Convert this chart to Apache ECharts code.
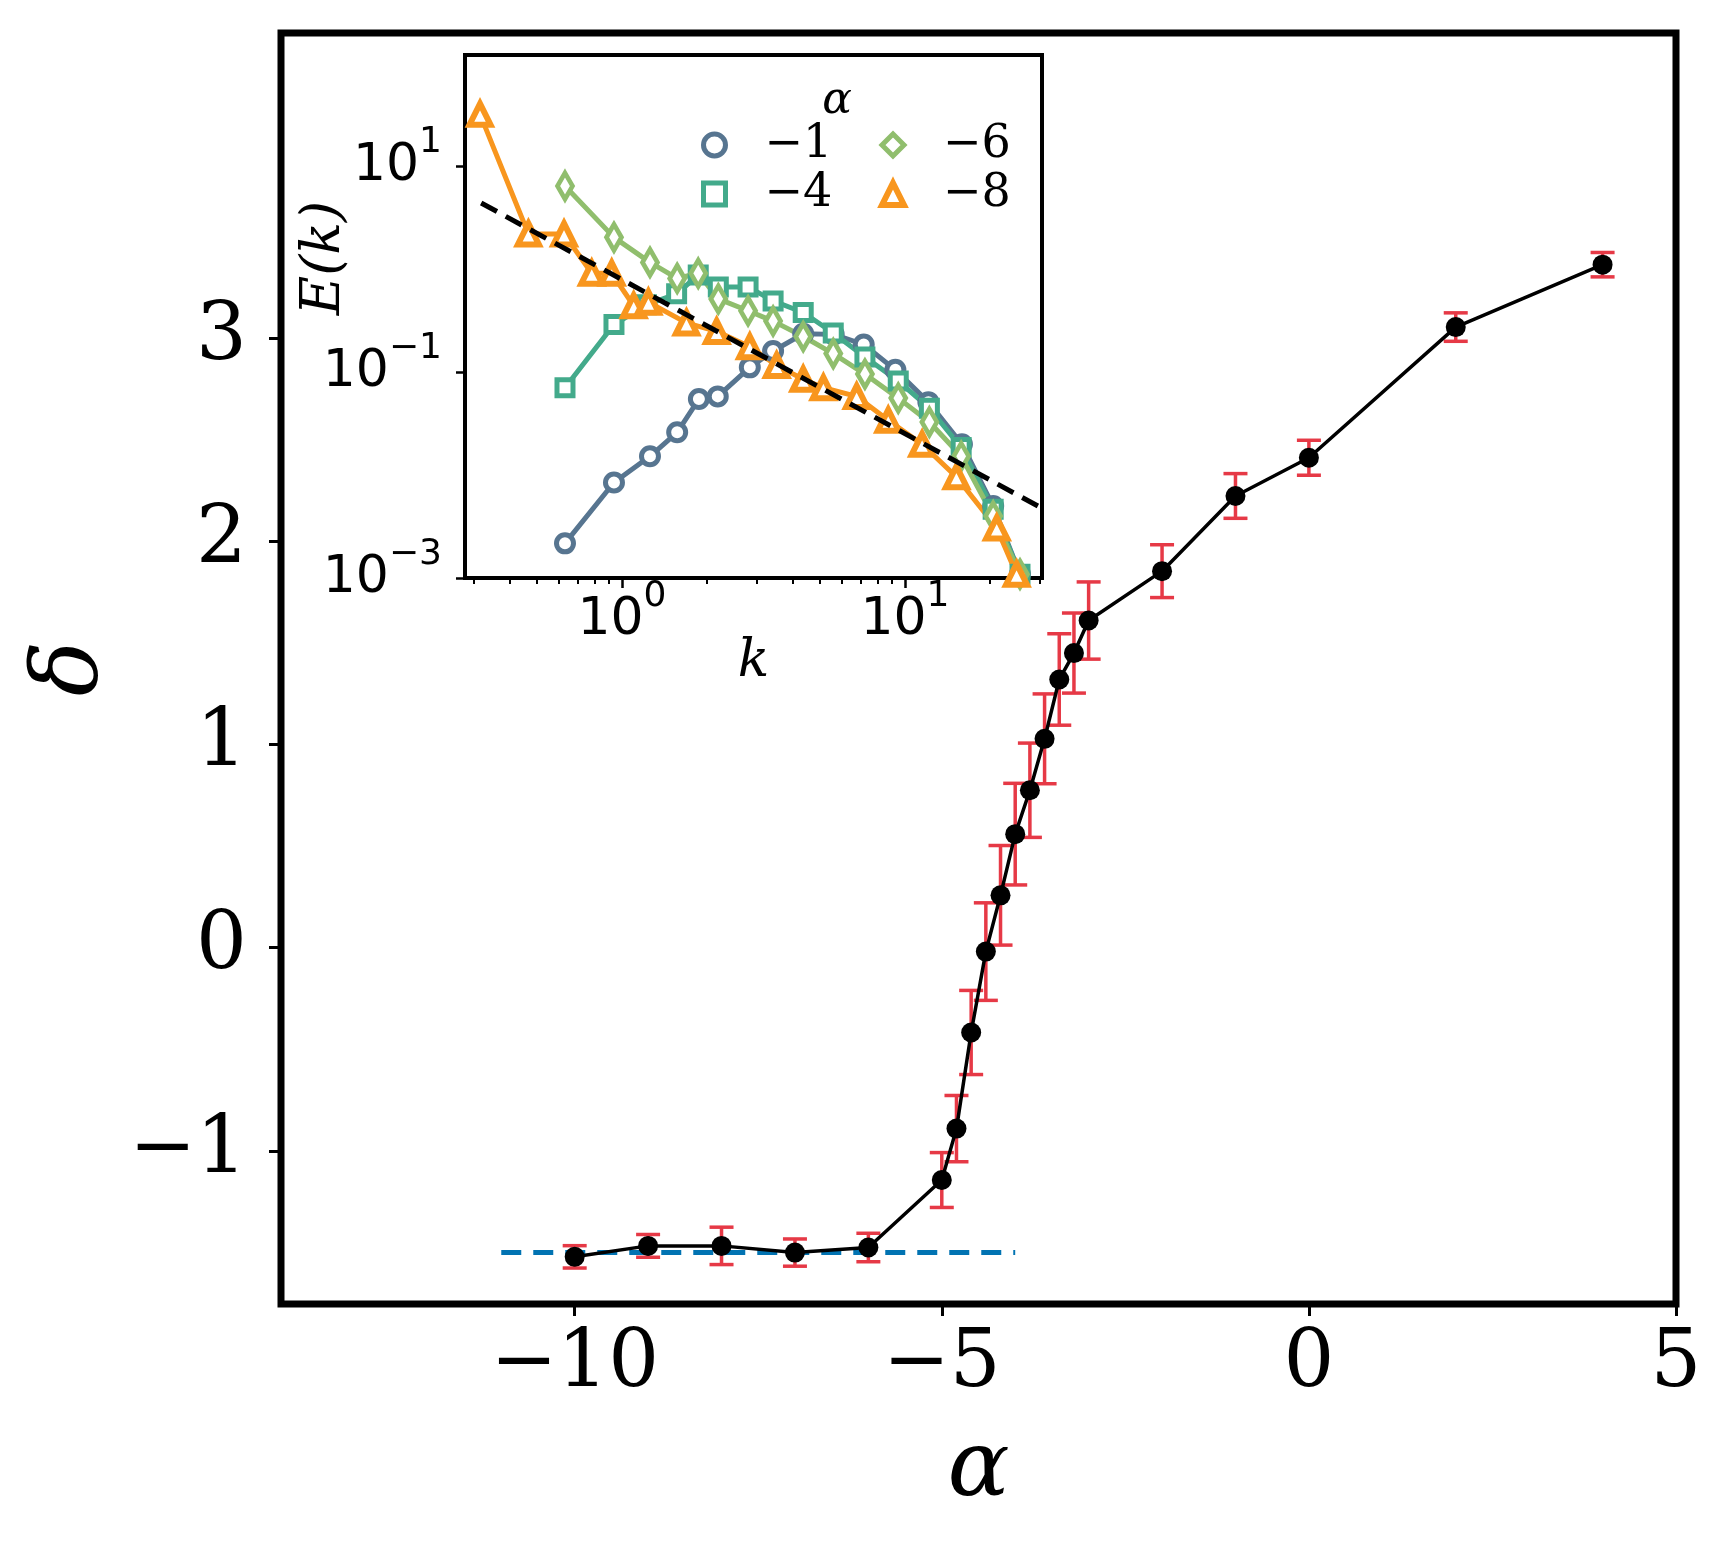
<!DOCTYPE html>
<html>
<head>
    <meta charset="utf-8"/>
    <title>delta vs alpha</title>
    <script src="https://cdn.jsdelivr.net/npm/echarts@6/dist/echarts.min.js"></script>
    <style type="text/css">
        html, body { margin: 0; padding: 0; background: #fff; }
        #main { width: 1732px; height: 1543px; }
    </style>
</head>
<body>
<div id="main"></div>
<script type="text/javascript">
// main panel: delta(alpha) with error bars
var alpha    = [-10, -9, -8, -7, -6, -5, -4.8, -4.6, -4.4, -4.2, -4.0, -3.8, -3.6, -3.4, -3.2, -3.0, -2, -1, 0, 2, 4];
var delta    = [-1.522, -1.468, -1.468, -1.501, -1.476, -1.144, -0.891, -0.418, -0.020, 0.257, 0.558, 0.774, 1.027, 1.319, 1.449, 1.609, 1.852, 2.222, 2.410, 3.053, 3.360];
var deltaErr = [0.055, 0.056, 0.092, 0.067, 0.070, 0.135, 0.163, 0.207, 0.240, 0.245, 0.250, 0.232, 0.221, 0.225, 0.197, 0.190, 0.130, 0.110, 0.086, 0.070, 0.060];
var refAlpha = [-11, -4];
var refDelta = [-1.5, -1.5];
var xTicks = [-10, -5, 0, 5];
var yTicks = [-1, 0, 1, 2, 3];

// inset: spectra E(k)
var kBlue   = [0.629, 0.937, 1.256, 1.567, 1.87, 2.18, 2.83, 3.42, 4.37, 5.6, 7.15, 9.25, 12.1, 15.9, 20.5, 25.5, 31];
var eBlue   = [0.00217, 0.00845, 0.0152, 0.026, 0.0546, 0.058, 0.111, 0.16, 0.235, 0.232, 0.185, 0.105, 0.051, 0.0199, 0.005, 0.00109, 0.00015];
var kTeal   = [0.629, 0.937, 1.22, 1.56, 1.86, 2.19, 2.79, 3.42, 4.37, 5.58, 7.22, 9.47, 12.2, 15.8, 20.5, 25.5, 31];
var eTeal   = [0.0703, 0.289, 0.45, 0.575, 0.875, 0.67, 0.67, 0.49, 0.378, 0.239, 0.14, 0.0818, 0.0445, 0.0185, 0.00466, 0.00109, 0.00015];
var kGreen  = [0.629, 0.937, 1.256, 1.567, 1.86, 2.19, 2.79, 3.42, 4.37, 5.58, 7.22, 9.47, 12.2, 15.8, 20.5, 25.5, 31];
var eGreen  = [6.4, 2.03, 1.16, 0.81, 0.91, 0.513, 0.393, 0.312, 0.221, 0.151, 0.0955, 0.0558, 0.0327, 0.0152, 0.004, 0.00109, 0.00015];
var kOrange = [0.315, 0.467, 0.624, 0.782, 0.92, 1.10, 1.24, 1.69, 2.16, 2.83, 3.52, 4.37, 5.15, 6.75, 8.73, 11.5, 15.2, 21.1, 24.8, 29];
var eOrange = [31.9, 2.19, 2.19, 0.91, 0.91, 0.44, 0.475, 0.30, 0.248, 0.176, 0.116, 0.085, 0.0703, 0.058, 0.034, 0.0199, 0.0096, 0.00306, 0.00109, 0.0002];
var kFit = [0.318, 29.5];
var eFit = [4.38, 0.005];
var insetXTicks = [1, 10];
var insetXMinor = [0.3, 0.4, 0.5, 0.6, 0.7, 0.8, 0.9, 2, 3, 4, 5, 6, 7, 8, 9, 20, 30];
var insetYTicks = [0.001, 0.1, 10];

var C_BLUE = '#577590', C_TEAL = '#43aa8b', C_GREEN = '#90be6d', C_ORANGE = '#f8961e';

function minus(v) { return String(v).replace('-', '\u2212'); }
function pow10(v) {
    var e = Math.round(Math.log10(v));
    return '{b|10}{s|' + minus(e) + '}';
}
function pairs(xs, ys) {
    return xs.map(function (x, i) { return [x, ys[i]]; });
}

var supRich = {
    b: { fontFamily: 'DejaVu Sans', fontSize: 52, lineHeight: 83, color: '#000' },
    s: { fontFamily: 'DejaVu Sans', fontSize: 36, verticalAlign: 'top', color: '#000' }
};

var errData = alpha.map(function (a, i) { return [a, delta[i], deltaErr[i]]; });

function spectrum(name, xs, ys, color, symbol, size, bw) {
    return {
        name: name, type: 'line', xAxisIndex: 1, yAxisIndex: 1,
        data: pairs(xs, ys),
        symbol: symbol, symbolSize: size, showAllSymbol: true,
        lineStyle: { color: color, width: 5 },
        itemStyle: { color: '#fff', borderColor: color, borderWidth: bw },
        z: 5
    };
}

var legendText = { fontFamily: 'DejaVu Serif', fontSize: 46, color: '#000', padding: [0, 0, 0, 34] };

var myChart = echarts.init(document.getElementById('main'));

var option = {
    animation: false,
    backgroundColor: '#fff',
    grid: [
        { left: 281, top: 33, width: 1395, height: 1271, show: true, borderColor: '#000', borderWidth: 7,
          backgroundColor: 'transparent', outerBoundsMode: 'none' },
        { left: 465, top: 55, width: 577, height: 523, show: true, borderColor: '#000', borderWidth: 4,
          backgroundColor: '#fff', outerBoundsMode: 'none' }
    ],
    xAxis: [
        {
            type: 'value', gridIndex: 0, min: -14, max: 5,
            axisLine: { show: false, onZero: false }, splitLine: { show: false },
            axisTick: { customValues: xTicks, length: 12, lineStyle: { color: '#000', width: 3 } },
            axisLabel: { customValues: xTicks, formatter: minus, margin: 21,
                         fontFamily: 'DejaVu Serif', fontSize: 80, color: '#000' },
            name: 'α', nameLocation: 'middle', nameGap: 121, nameMoveOverlap: false,
            nameTextStyle: { fontFamily: 'DejaVu Serif', fontStyle: 'italic', fontSize: 92, color: '#000' }
        },
        {
            type: 'log', logBase: 10, gridIndex: 1, min: 0.2788, max: 30.5, position: 'bottom',
            axisLine: { show: false, onZero: false }, splitLine: { show: false },
            axisTick: { customValues: insetXTicks, length: 10, lineStyle: { color: '#000', width: 2.5 } },
            axisLabel: { customValues: insetXTicks, formatter: pow10, margin: 1, rich: supRich },
            name: 'k', nameLocation: 'middle', nameGap: 58, nameMoveOverlap: false,
            nameTextStyle: { fontFamily: 'DejaVu Serif', fontStyle: 'italic', fontSize: 52, color: '#000' }
        },
        {
            type: 'log', logBase: 10, gridIndex: 1, min: 0.2788, max: 30.5, position: 'bottom',
            axisLine: { show: false, onZero: false }, splitLine: { show: false },
            axisTick: { customValues: insetXMinor, length: 6, lineStyle: { color: '#000', width: 2 } },
            axisLabel: { show: false }
        }
    ],
    yAxis: [
        {
            type: 'value', gridIndex: 0, min: -1.754, max: 4.5,
            axisLine: { show: false, onZero: false }, splitLine: { show: false },
            axisTick: { customValues: yTicks, length: 12, lineStyle: { color: '#000', width: 3 } },
            axisLabel: { customValues: yTicks, formatter: minus, margin: 34,
                         fontFamily: 'DejaVu Serif', fontSize: 80, color: '#000' },
            name: 'δ', nameLocation: 'middle', nameGap: 162, nameRotate: 90, nameMoveOverlap: false,
            nameTextStyle: { fontFamily: 'DejaVu Serif', fontStyle: 'italic', fontSize: 92, color: '#000' }
        },
        {
            type: 'log', logBase: 10, gridIndex: 1, min: 0.001, max: 119.7,
            axisLine: { show: false, onZero: false }, splitLine: { show: false },
            axisTick: { customValues: insetYTicks, length: 9, lineStyle: { color: '#000', width: 2.5 } },
            axisLabel: { customValues: insetYTicks, formatter: pow10, margin: 23, rich: supRich }
        }
    ],
    legend: [
        {
            left: 701, top: 122, padding: 0, orient: 'vertical', itemWidth: 22, itemHeight: 22, itemGap: 3,
            textStyle: legendText,
            data: [
                { name: '\u22121', icon: 'circle', itemStyle: { color: '#fff', borderColor: C_BLUE, borderWidth: 5 } },
                { name: '\u22124', icon: 'rect', itemStyle: { color: '#fff', borderColor: C_TEAL, borderWidth: 5 } }
            ]
        },
        {
            left: 879, top: 122, padding: 0, orient: 'vertical', itemWidth: 22, itemHeight: 22, itemGap: 3,
            textStyle: legendText,
            data: [
                { name: '\u22126', icon: 'diamond', itemStyle: { color: '#fff', borderColor: C_GREEN, borderWidth: 5 } },
                { name: '\u22128', icon: 'triangle', itemStyle: { color: '#fff', borderColor: C_ORANGE, borderWidth: 6 } }
            ]
        }
    ],
    graphic: [
        { type: 'text', x: 837, y: 102, z: 100,
          style: { text: 'α', font: 'italic 44px "DejaVu Serif"', fill: '#000', align: 'center', verticalAlign: 'middle' } },
        { type: 'text', x: 325, y: 258, rotation: Math.PI / 2, z: 100,
          style: { text: 'E(k)', font: 'italic 54px "DejaVu Serif"', fill: '#000', align: 'center', verticalAlign: 'middle' } }
    ],
    series: [
        {
            type: 'line', xAxisIndex: 0, yAxisIndex: 0, data: pairs(refAlpha, refDelta),
            symbol: 'none', lineStyle: { color: '#0173b2', width: 5, type: [20, 12] }, z: 1
        },
        {
            type: 'custom', xAxisIndex: 0, yAxisIndex: 0, data: errData, z: 2,
            encode: { x: 0, y: 1 },
            renderItem: function (params, api) {
                var x = api.value(0), y = api.value(1), e = api.value(2);
                var top = api.coord([x, y + e]);
                var bot = api.coord([x, y - e]);
                var w = 12;
                var st = { stroke: '#e63946', lineWidth: 3.5 };
                return {
                    type: 'group',
                    children: [
                        { type: 'line', shape: { x1: top[0], y1: top[1], x2: bot[0], y2: bot[1] }, style: st },
                        { type: 'line', shape: { x1: top[0] - w, y1: top[1], x2: top[0] + w, y2: top[1] }, style: st },
                        { type: 'line', shape: { x1: bot[0] - w, y1: bot[1], x2: bot[0] + w, y2: bot[1] }, style: st }
                    ]
                };
            }
        },
        {
            type: 'line', xAxisIndex: 0, yAxisIndex: 0, data: pairs(alpha, delta),
            symbol: 'circle', symbolSize: 20,
            itemStyle: { color: '#000' }, lineStyle: { color: '#000', width: 3.5 }, z: 3
        },
        spectrum('\u22121', kBlue, eBlue, C_BLUE, 'circle', 17, 5),
        spectrum('\u22124', kTeal, eTeal, C_TEAL, 'rect', 16, 5),
        spectrum('\u22126', kGreen, eGreen, C_GREEN, 'diamond', [15, 26], 5),
        spectrum('\u22128', kOrange, eOrange, C_ORANGE, 'triangle', [21, 21], 6),
        {
            type: 'line', xAxisIndex: 1, yAxisIndex: 1, data: pairs(kFit, eFit),
            symbol: 'none', lineStyle: { color: '#000', width: 5, type: [18, 10] }, z: 6
        }
    ]
};

myChart.setOption(option);
</script>
</body>
</html>
